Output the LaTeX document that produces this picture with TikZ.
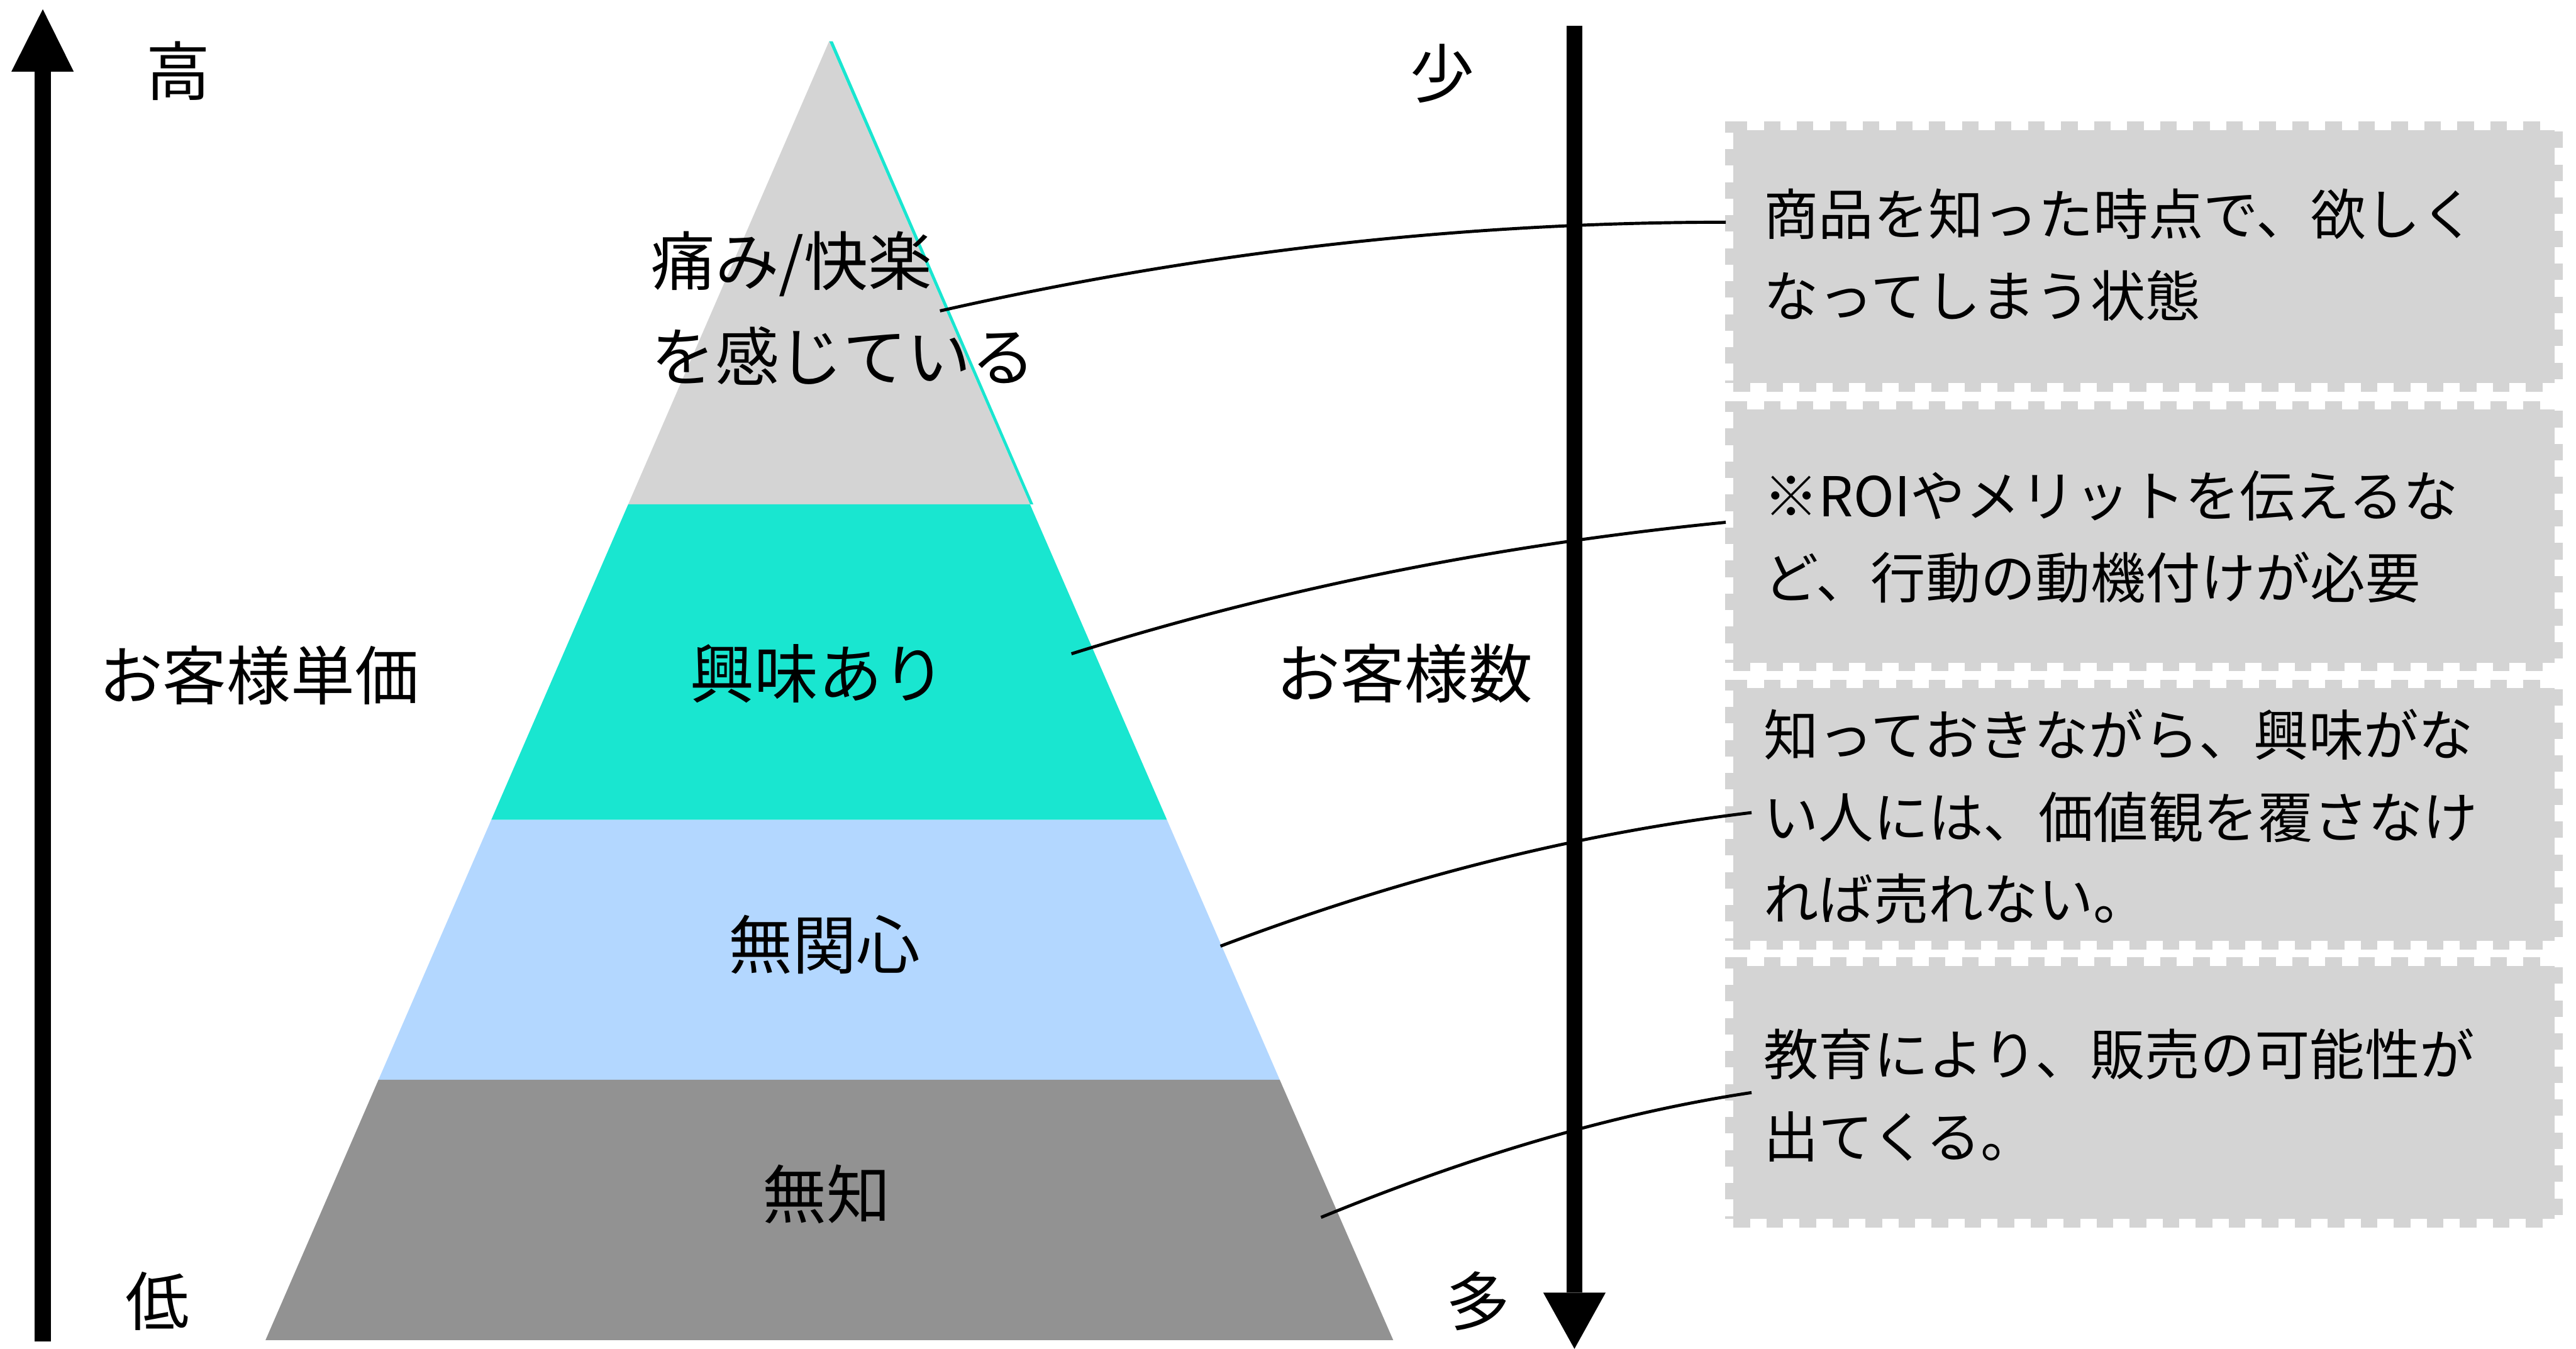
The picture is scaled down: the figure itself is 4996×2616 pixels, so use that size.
\documentclass[tikz,border=0pt]{standalone}
\usepackage{fontspec}
\setmainfont{Noto Sans CJK JP}
\definecolor{lgray}{HTML}{D4D4D4}
\definecolor{tealc}{HTML}{19E6D0}
\definecolor{lblue}{HTML}{B3D7FF}
\definecolor{dgray}{HTML}{929292}
\begin{document}
\begin{tikzpicture}[x=0.01cm,y=-0.01cm]
\tikzset{
  lbl/.style={font=\fontsize{35.3}{52.6}\selectfont, inner sep=0pt},
  btxt/.style={font=\fontsize{30.3}{45.2}\selectfont, align=left, inner sep=0pt, anchor=west},
  infobox/.style={fill=lgray, draw=lgray, line width=0.32cm, dash pattern=on 0.32cm off 0.32cm,
    minimum width=15.92cm, minimum height=4.91cm, anchor=north west, inner sep=0pt, outer sep=0pt},
  conn/.style={line width=0.06cm},
}
\useasboundingbox (0,0) rectangle (4996,2616);

% axis arrows
\coordinate (latip) at (83,18);
\fill (67,2602) rectangle (99,139);
\fill (22,139) -- (143,139) -- (latip) -- cycle;
\fill (3038,50) rectangle (3069,2507);
\coordinate (ratip) at (3053.5,2616);
\fill (2993,2507) -- (3114,2507) -- (ratip) -- cycle;

% pyramid
\fill[tealc] (1608,80) -- (1615,80) -- (2004,978) -- (1997.6,978) -- cycle;
\fill[lgray] (1608,80) -- (1997.6,978) -- (1218.4,978) -- cycle;
\fill[tealc] (1218.4,978) -- (1997.6,978) -- (2263.2,1590) -- (952.8,1590) -- cycle;
\fill[lblue] (952.8,1590) -- (2263.2,1590) -- (2481.9,2094) -- (734.1,2094) -- cycle;
\fill[dgray] (734.1,2094) -- (2481.9,2094) -- (2702,2599) -- (515,2599) -- cycle;

% labels
\node[lbl] (hi) at (346,137) {高};
\node[lbl] (lo) at (306,2523) {低};
\node[lbl] (few) at (2797,143) {少};
\node[lbl] (many) at (2867,2523) {多};
\node[lbl] (price) at (502,1310) {お客様単価};
\node[lbl] (count) at (2724,1306) {お客様数};
\node[lbl, align=left, anchor=west] (p1) at (1262,598) {痛み/快楽\\を感じている};
\node[lbl] (p2) at (1587,1306) {興味あり};
\node[lbl] (p3) at (1599,1832) {無関心};
\node[lbl] (p4) at (1603,2316) {無知};

% boxes
\node[infobox] (b1) at (3362,252) {};
\node[infobox] (b2) at (3362,794) {};
\node[infobox] (b3) at (3362,1334) {};
\node[infobox] (b4) at (3362,1873) {};
\node[btxt] (t1) at (3420,494) {商品を知った時点で、欲しく\\なってしまう状態};
\node[btxt] (t2) at (3420,1041) {※ROIやメリットを伝えるな\\ど、行動の動機付けが必要};
\node[btxt] (t3) at (3420,1584) {知っておきながら、興味がな\\い人には、価値観を覆さなけ\\れば売れない。};
\node[btxt] (t4) at (3420,2124) {教育により、販売の可能性が\\出てくる。};

% connectors
\coordinate (s1) at (1823,603);
\coordinate (e1) at (3347,431);
\coordinate (s2) at (2078,1268);
\coordinate (e2) at (3347,1013);
\coordinate (s3) at (2367,1835);
\coordinate (e3) at (3397,1576);
\coordinate (s4) at (2562,2361);
\coordinate (e4) at (3397,2119);
\draw[conn] (s1) .. controls (2331,488) and (2839,431) .. (e1);
\draw[conn] (s2) .. controls (2501,1135) and (2924,1055) .. (e2);
\draw[conn] (s3) .. controls (2710,1705) and (3054,1617) .. (e3);
\draw[conn] (s4) .. controls (2840,2247) and (3119,2161) .. (e4);
\end{tikzpicture}
\end{document}
